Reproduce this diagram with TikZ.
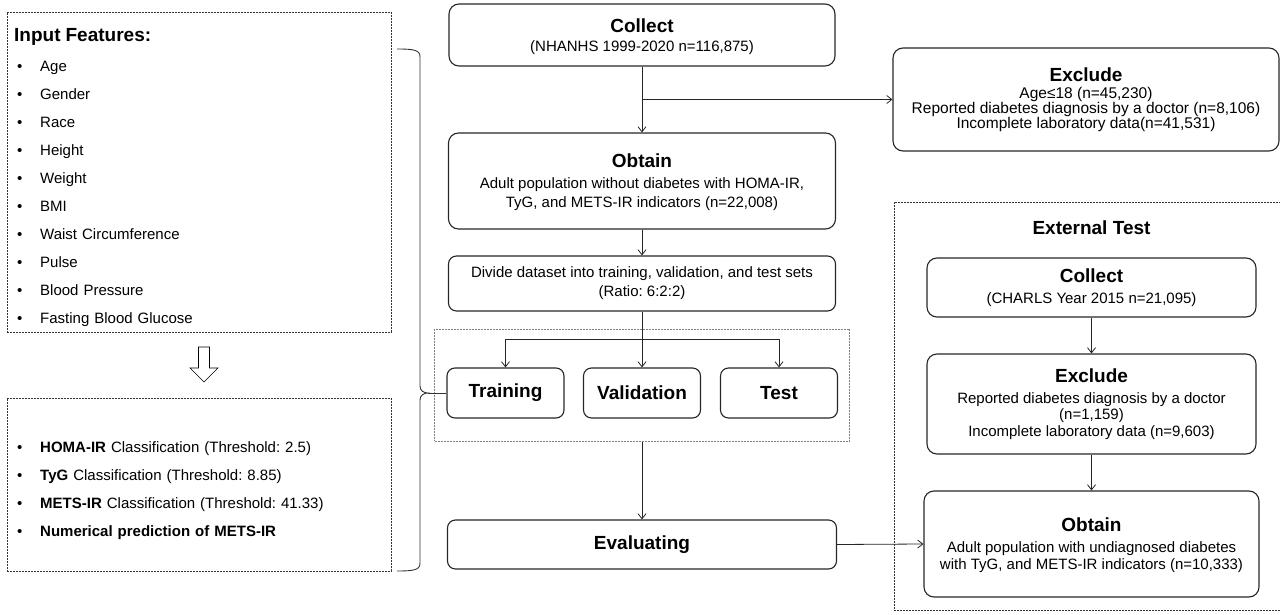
\documentclass[tikz,border=0pt]{standalone}
\usepackage{fontspec}
\setmainfont{Liberation Sans}
\usetikzlibrary{arrows.meta,calc,fit,positioning}
\frenchspacing

\newcommand{\hd}{\fontsize{19}{22}\selectfont\bfseries}
\newcommand{\itm}{\makebox[26pt][l]{\hspace{3pt}\textbullet}}

\begin{document}
\begin{tikzpicture}[x=1pt,y=-1pt,
  box/.style={draw=black!85,line width=1.1pt,rounded corners=10pt,align=center,inner sep=0pt,font=\fontsize{15}{17.5}\selectfont},
  smallbox/.style={box,rounded corners=8pt},
  listbox/.style={draw=black!80,dash pattern=on 2pt off 1pt,line width=0.8pt,minimum width=384pt,anchor=north west},
  listtext/.style={align=left,text width=370pt,inner sep=0pt,anchor=north west,font=\fontsize{15}{28}\selectfont},
  grpbox/.style={draw=black!50,dash pattern=on 2pt off 1pt,line width=1pt},
  extbox/.style={draw=black!80,dash pattern=on 2pt off 1pt,line width=0.8pt},
  arrow/.style={-{Straight Barb[length=1.8mm,width=2.8mm]},line width=0.8pt,draw=black!85}
]
\useasboundingbox (0,0) rectangle (1280,615);

\node[listbox,minimum height=320pt] (feat) at (7,12) {};
\node[listtext] (featlist) at (14,28.5) {{\fontsize{19}{22}\selectfont\bfseries Input Features:}\\[1.5pt]
  \itm Age\\ \itm Gender\\ \itm Race\\ \itm Height\\ \itm Weight\\ \itm BMI\\
  \itm Waist Circumference\\ \itm Pulse\\ \itm Blood Pressure\\ \itm Fasting Blood Glucose};
\node[listbox,minimum height=173pt] (task) at (7,398) {};
\node[listtext] (tasklist) at (14,441.5) {\itm\textbf{HOMA-IR} Classification (Threshold: 2.5)\\
  \itm\textbf{TyG} Classification (Threshold: 8.85)\\
  \itm\textbf{METS-IR} Classification (Threshold: 41.33)\\
  \itm\textbf{Numerical prediction of METS-IR}};
\draw[line width=0.7pt] (198.5,347) -- (209.5,347) -- (209.5,368) -- (218,368) -- (204,382)
  -- (190,368) -- (198.5,368) -- cycle;

\node[box,minimum width=386pt,minimum height=62pt] (col) at (642,35) {\rule{0pt}{17pt}{\hd Collect}\\[2pt](NHANHS 1999-2020 n=116,875)};
\node[box,minimum width=387pt,minimum height=96pt,font=\fontsize{15}{19}\selectfont] (obt) at (642,181) {\rule{0pt}{17pt}{\hd Obtain}\\[2pt]Adult population without diabetes with HOMA-IR,\\TyG, and METS-IR indicators (n=22,008)};
\node[smallbox,minimum width=387pt,minimum height=55pt] (div) at (642,283.5) {Divide dataset into training, validation, and test sets\\[1.5pt](Ratio: 6:2:2)};
\node[grpbox,minimum width=415pt,minimum height=112pt] (grp) at (642,385) {};
\node[smallbox,font=\hd,minimum width=117pt,minimum height=50pt] (train) at (505.5,393) {Training};
\node[smallbox,font=\hd,minimum width=117pt,minimum height=50pt] (valid) at (642,393) {Validation};
\node[smallbox,font=\hd,minimum width=117pt,minimum height=50pt] (test) at (779,393) {Test};
\node[smallbox,font=\hd,minimum width=389pt,minimum height=49pt] (eval) at (642,544.5) {Evaluating};

\node[box,minimum width=386pt,minimum height=103pt,font=\fontsize{15.5}{15}\selectfont] (exc) at (1086,99.5) {{\hd Exclude}\\[2pt]Age≤18 (n=45,230)\\Reported diabetes diagnosis by a doctor (n=8,106)\\Incomplete laboratory data(n=41,531)};
\node[extbox,minimum width=390pt,minimum height=408pt] (ext) at (1089,406) {};
\node[font=\fontsize{19}{22}\selectfont\bfseries] (extttl) at (1091.5,228) {External Test};
\node[box,minimum width=329pt,minimum height=59pt] (col2) at (1091.5,287.5) {{\hd Collect}\\[3pt](CHARLS Year 2015 n=21,095)};
\node[box,minimum width=329pt,minimum height=100pt,font=\fontsize{15}{16.5}\selectfont] (exc2) at (1091.5,404) {{\hd Exclude}\\[4pt]Reported diabetes diagnosis by a doctor\\(n=1,159)\\Incomplete laboratory data (n=9,603)};
\node[box,minimum width=335pt,minimum height=106pt] (obt2) at (1091.5,544) {\rule{0pt}{17pt}{\hd Obtain}\\[3pt]Adult population with undiagnosed diabetes\\with TyG, and METS-IR indicators (n=10,333)};

\coordinate (br) at (col.south |- exc.west);
\coordinate (fork) at (642,339);
\coordinate (tip) at (428,393);
\draw[arrow] (col.south) -- (obt.north);
\draw[arrow] (br) -- (exc.west);
\draw[arrow] (obt.south) -- (div.north);
\draw[arrow] (div.south) -- (valid.north);
\draw[arrow] (fork) -| (train.north);
\draw[arrow] (fork) -| (test.north);
\draw[arrow] (grp.south) -- (eval.north);
\draw[arrow] (eval.east) -- (obt2.west);
\draw[arrow] (col2.south) -- (exc2.north);
\draw[arrow] (exc2.south) -- (obt2.north);

\draw[line width=0.9pt,black!80] (397,49) .. controls (414,49) and (420,50) .. (420,57) -- (420,386)
  .. controls (420,391) and (424,393) .. (tip) .. controls (424,393) and (420,395) .. (420,400)
  -- (420,563) .. controls (420,570) and (414,571) .. (397,571);
\draw[line width=0.9pt,black!80] (tip) -- (train.west);
\end{tikzpicture}
\end{document}
